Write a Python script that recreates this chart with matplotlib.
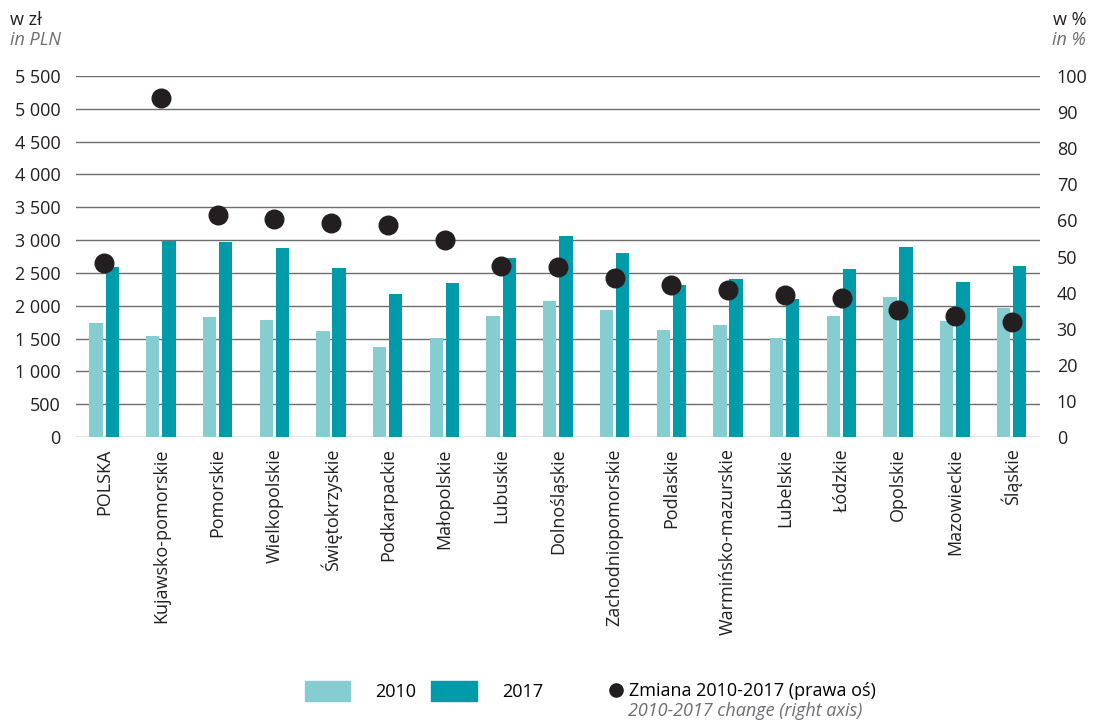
import numpy as np
import matplotlib
matplotlib.use("Agg")
import matplotlib.pyplot as plt
from matplotlib.patches import Patch
from matplotlib.lines import Line2D

plt.rcParams['font.family'] = ['Open Sans', 'DejaVu Sans']

regions = ["POLSKA", "Kujawsko-pomorskie", "Pomorskie", "Wielkopolskie",
           "Świętokrzyskie", "Podkarpackie", "Małopolskie", "Lubuskie",
           "Dolnośląskie", "Zachodniopomorskie", "Podlaskie",
           "Warmińsko-mazurskie", "Lubelskie", "Łódzkie", "Opolskie",
           "Mazowieckie", "Śląskie"]
val_2010 = [1740, 1540, 1830, 1785, 1615, 1375, 1510, 1845, 2075,
            1935, 1630, 1705, 1510, 1845, 2135, 1770, 1965]
val_2017 = [2590, 2990, 2975, 2880, 2575, 2180, 2350, 2730, 3065,
            2805, 2320, 2410, 2105, 2560, 2895, 2365, 2605]
change = [48.2, 93.9, 61.5, 60.4, 59.2, 58.7, 54.6, 47.5, 47.1,
          44.0, 42.1, 40.7, 39.4, 38.4, 35.1, 33.5, 31.9]
left_ticks = np.arange(0, 5501, 500)
right_ticks = np.arange(0, 101, 10)

c2010 = '#86CDD2'
c2017 = '#009BA8'
cdot = '#231F20'
grey = '#6d6e71'
fs = 13

fig = plt.figure(figsize=(10.96, 7.22), dpi=100)
ax = fig.add_axes([0.0693, 0.3947, 0.8796, 0.5])
x = np.arange(len(regions))
w = 0.235
ax.bar(x - 0.145, val_2010, w, color=c2010, zorder=3)
ax.bar(x + 0.14, val_2017, w, color=c2017, zorder=3)
ax.set_xlim(-0.5, len(regions) - 0.5)
ax.set_ylim(0, 5500)
ax.set_yticks(left_ticks)
ax.set_yticklabels([f"{v:,}".replace(",", " ") for v in left_ticks])
ax.set_xticks(x)
ax.set_xticklabels(regions, rotation=90, va='top', ha='center')
ax.tick_params(axis='both', length=0, labelsize=fs, colors='#231F20')
ax.tick_params(axis='y', pad=11)
ax.tick_params(axis='x', pad=8)
ax.grid(axis='y', color=grey, lw=1, zorder=0)
for s in ax.spines.values():
    s.set_visible(False)

ax2 = ax.twinx()
ax2.scatter(x, change, s=180, color=cdot, zorder=5)
ax2.set_ylim(0, 100)
ax2.set_yticks(right_ticks)
ax2.tick_params(axis='y', length=0, labelsize=fs, colors='#231F20', pad=12)
for s in ax2.spines.values():
    s.set_visible(False)

fig.text(0.009, 0.965, "w zł", fontsize=fs, color='#231F20')
fig.text(0.009, 0.937, "in PLN", fontsize=fs, color=grey, style='italic')
fig.text(0.991, 0.965, "w %", fontsize=fs, color='#231F20', ha='right')
fig.text(0.991, 0.937, "in %", fontsize=fs, color=grey, style='italic', ha='right')

# legend: bars
fig.legend([Patch(color=c2010), Patch(color=c2017)], ["2010", "2017"],
           loc='center left', bbox_to_anchor=(0.278, 0.043), ncol=2,
           frameon=False, fontsize=fs, handlelength=2.5,
           handleheight=1.28, handletextpad=1.4, columnspacing=0.85,
           borderpad=0, borderaxespad=0)
# legend: dots
fig.legend([Line2D([], [], marker='o', ls='', color=cdot, markersize=9.5)],
           ["Zmiana 2010-2017 (prawa oś)"], loc='center left',
           bbox_to_anchor=(0.554, 0.043), frameon=False, fontsize=fs,
           handlelength=1, handletextpad=0.2, borderpad=0, borderaxespad=0)
fig.text(0.573, 0.003, "2010-2017 change (right axis)", fontsize=fs,
         color=grey, style='italic', va='bottom')

fig.savefig("out.png", dpi=100)
